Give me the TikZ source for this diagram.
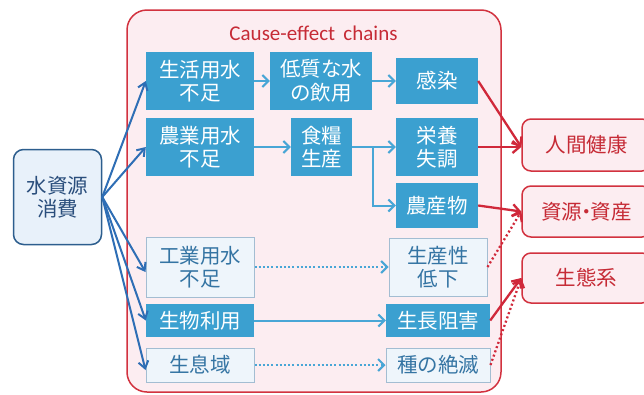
\documentclass[tikz,border=0pt]{standalone}
\usepackage{fontspec}
\newfontfamily\jpfont{Noto Sans CJK JP}
\newfontfamily\calfont{Carlito}
\usetikzlibrary{arrows.meta}
\definecolor{fblue}{HTML}{3BA0D0}
\definecolor{cblue}{HTML}{48A6D6}
\definecolor{dblue}{HTML}{2E6EB5}
\definecolor{lfill}{HTML}{EEF5FB}
\definecolor{lborder}{HTML}{A3BDD2}
\definecolor{ltext}{HTML}{3474A3}
\definecolor{sfill}{HTML}{E8F1FA}
\definecolor{sborder}{HTML}{2D5E8E}
\definecolor{stext}{HTML}{2A4E7C}
\definecolor{pinkbg}{HTML}{FCEDF1}
\definecolor{redb}{HTML}{D2323F}
\definecolor{redt}{HTML}{C62B36}
\definecolor{reda}{HTML}{D0283A}
\tikzset{
  jp/.style={font=\jpfont\fontsize{20.5}{23.5}\selectfont, align=center, inner sep=0pt},
  fbox/.style={jp, fill=fblue, draw=none, text=white},
  lbox/.style={jp, fill=lfill, draw=lborder, line width=1pt, text=ltext},
  srcbox/.style={jp, fill=sfill, draw=sborder, line width=1.5pt, text=stext, rounded corners=10pt},
  rbox/.style={jp, fill=pinkbg, draw=redb, line width=1.5pt, text=redt, rounded corners=9pt},
  chain/.style={draw=cblue, line width=2pt, -{Straight Barb[length=6pt,width=12pt]}},
  chaindot/.style={chain, dash pattern=on 2pt off 2.2pt},
  src/.style={draw=dblue, line width=2pt, -{Straight Barb[length=7pt,width=10pt]}},
  red/.style={draw=reda, line width=2.3pt, -{Straight Barb[length=7pt,width=12pt]}},
  reddot/.style={red, dash pattern=on 2pt off 2.5pt}
}
\begin{document}
\begin{tikzpicture}[x=1pt,y=-1pt]
\useasboundingbox (0,0) rectangle (644,394);
\fill[white] (0,0) rectangle (644,394);
% big frame
\draw[fill=pinkbg, draw=redb, line width=1.5pt, rounded corners=20pt] (127,10) rectangle (501,392);
\node[font=\calfont\fontsize{21}{24}\selectfont, text=redt, inner sep=0pt] (title) at (313.5,33) {Cause-effect\ \,chains};
% source
\node[srcbox, minimum width=88, minimum height=95] (s) at (57.5,197) {水資源\\消費};
% row 1
\node[fbox, minimum width=108, minimum height=58] (a1) at (200,81) {生活用水\\不足};
\node[fbox, minimum width=102, minimum height=58] (a2) at (321,81) {低質な水\\の飲用};
\node[fbox, minimum width=82, minimum height=46] (a3) at (437,81) {感染};
% row 2
\node[fbox, minimum width=108, minimum height=58] (b1) at (200,147) {農業用水\\不足};
\node[fbox, minimum width=61, minimum height=58] (b2) at (321.5,147) {食糧\\生産};
\node[fbox, minimum width=82, minimum height=58] (b3) at (437,147) {栄養\\失調};
\node[fbox, minimum width=82, minimum height=45] (b4) at (437,205.5) {農産物};
% row 3
\node[lbox, minimum width=108, minimum height=60] (c1) at (200,267) {工業用水\\不足};
\node[lbox, minimum width=98, minimum height=58] (c2) at (438,267) {生産性\\低下};
% row 4
\node[fbox, minimum width=108, minimum height=33] (d1) at (200,320.5) {生物利用};
\node[fbox, minimum width=104, minimum height=33] (d2) at (438,320.5) {生長阻害};
% row 5
\node[lbox, minimum width=108, minimum height=34] (e1) at (200,365) {生息域};
\node[lbox, minimum width=104, minimum height=34] (e2) at (438,365) {種の絶滅};
% right boxes
\node[rbox, minimum width=129, minimum height=52] (r1) at (586.5,145) {人間健康};
\node[rbox, minimum width=129, minimum height=51] (r2) at (586.5,211.5) {資源\kern-6pt・\kern-6pt資産};
\node[rbox, minimum width=129, minimum height=50] (r3) at (586.5,278) {生態系};
% source arrows
\draw[src] (s.east) -- (a1.west);
\draw[src] (s.east) -- (b1.west);
\draw[src] (s.east) -- ([yshift=-5pt]c1.west);
\draw[src] (s.east) -- (d1.west);
\draw[src] (s.east) -- ([yshift=-5pt]e1.west);
% chain arrows
\draw[chain] (a1.east) -- (a2.west);
\draw[chain] (a2.east) -- (a3.west);
\draw[chain] (b1.east) -- (b2.west);
\draw[chain] (b2.east) -- (b3.west);
\draw[chain] (b2.east) ++(21,0) |- (b4.west);
\draw[chaindot] (c1.east) -- (c2.west);
\draw[chain] (d1.east) -- (d2.west);
\draw[chaindot] (e1.east) -- (e2.west);
% red arrows
\draw[red] (a3.east) -- ([yshift=-2pt]r1.west);
\draw[red] (b3.east) -- ([yshift=-2pt]r1.west);
\draw[red] (b4.east) -- (r2.west);
\draw[reddot] (c2.east) -- (r2.west);
\draw[red] (d2.east) -- (r3.west);
\draw[reddot] (e2.east) -- (r3.west);
\end{tikzpicture}
\end{document}
